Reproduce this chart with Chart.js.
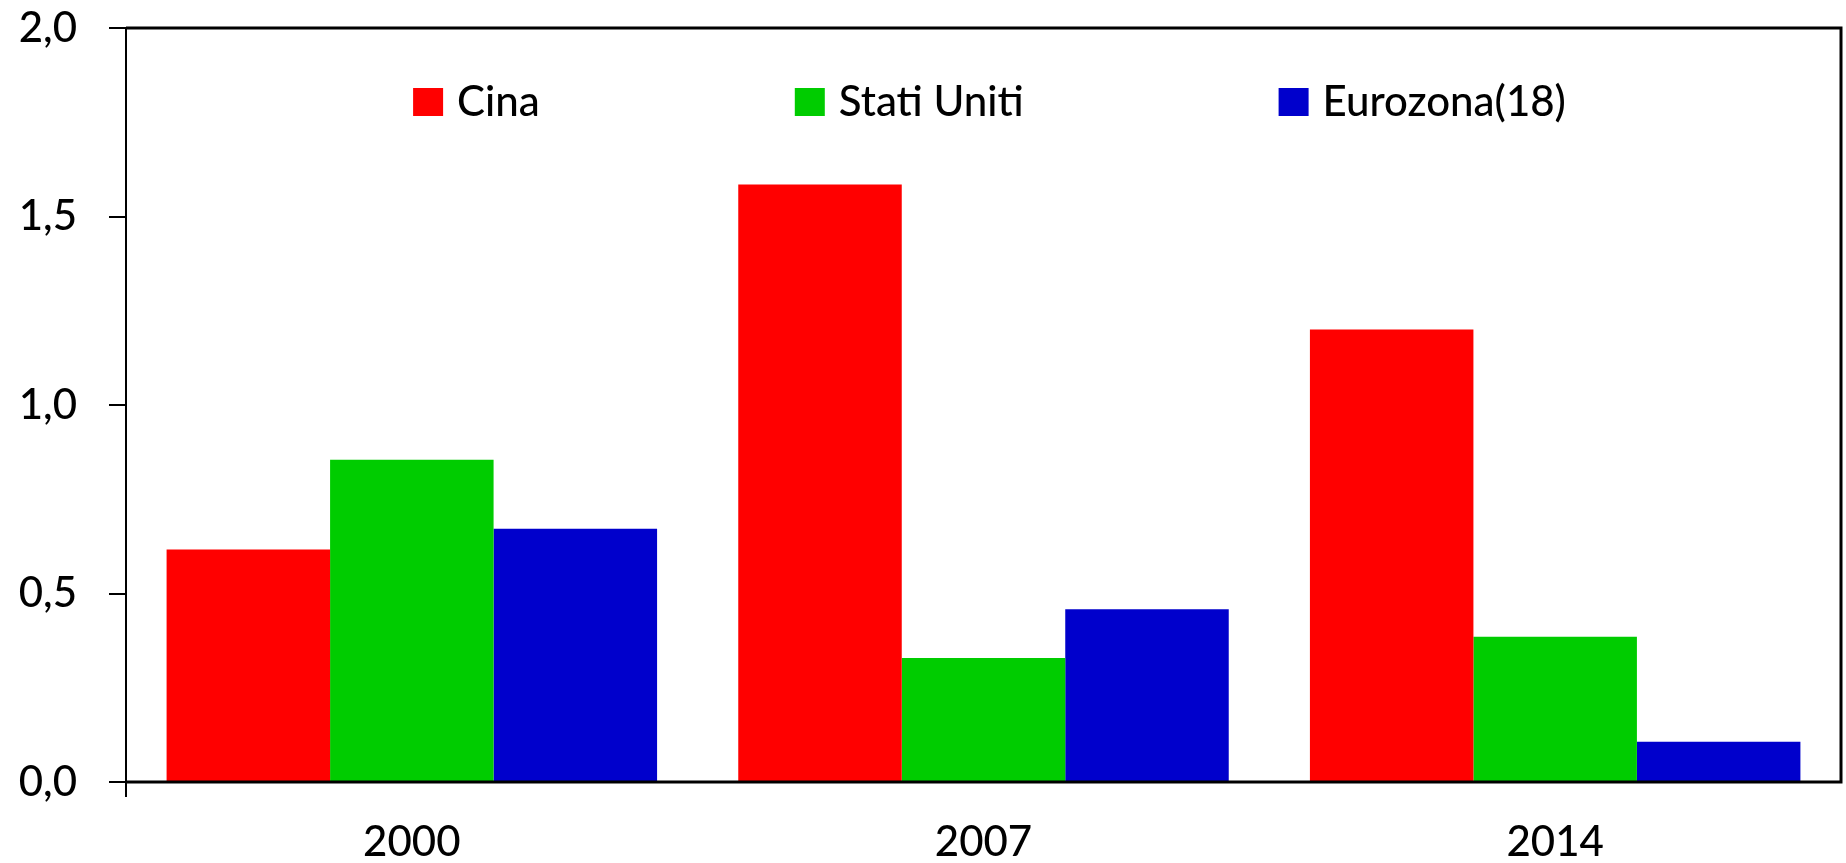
<!DOCTYPE html>
<html>
<head>
<meta charset="utf-8">
<script src="https://cdn.jsdelivr.net/npm/chart.js@4/dist/chart.umd.min.js"></script>
<style>
  body { margin: 0; background: #fff; }
  #wrap { width: 1846px; height: 863px; }
</style>
</head>
<body>
<div id="wrap"><canvas id="chart"></canvas></div>
<script>
// dati
const years = ["2000", "2007", "2014"];
const seriesNames = ["Cina", "Stati Uniti", "Eurozona(18)"];
const cina = [0.617, 1.585, 1.2];
const statiUniti = [0.855, 0.329, 0.385];
const eurozona = [0.672, 0.458, 0.107];
const yTickLabels = ["0,0", "0,5", "1,0", "1,5", "2,0"];
const colors = ["#FF0000", "#00CC00", "#0000CC"];

const FONT = "Lato";

// cornice + legenda disegnate dentro l'area del grafico
const framePlugin = {
  id: "frame",
  afterDatasetsDraw(chart) {
    const { ctx, chartArea: a } = chart;
    ctx.save();
    ctx.strokeStyle = "#000";
    ctx.lineWidth = 3;
    ctx.beginPath();
    ctx.moveTo(a.left, a.top);
    ctx.lineTo(a.right, a.top);
    ctx.lineTo(a.right, a.bottom);
    ctx.lineTo(a.left, a.bottom);
    ctx.stroke();
    ctx.lineWidth = 2;
    ctx.beginPath();
    ctx.moveTo(a.left, a.top);
    ctx.lineTo(a.left, a.bottom + 15);
    ctx.stroke();
    ctx.restore();
  },
  afterDraw(chart) {
    const { ctx, chartArea: a } = chart;
    const sets = chart.data.datasets;
    ctx.save();
    ctx.font = "500 42px " + FONT;
    const box = 30, gap = 14, spacing = 255;
    const widths = sets.map((d) => box + gap + ctx.measureText(d.label).width);
    const total = widths.reduce((s, w) => s + w, 0) + spacing * (sets.length - 1);
    let x = (a.left + a.right) / 2 + 6 - total / 2;
    const yBase = a.top + 88;
    sets.forEach((d, i) => {
      ctx.fillStyle = d.backgroundColor;
      ctx.fillRect(x, yBase - 28, box, 28);
      ctx.fillStyle = "#000";
      ctx.textBaseline = "alphabetic";
      ctx.fillText(d.label, x + box + gap, yBase);
      x += widths[i] + spacing;
    });
    ctx.restore();
  },
};

new Chart(document.getElementById("chart"), {
  type: "bar",
  data: {
    labels: years,
    datasets: [
      { label: seriesNames[0], data: cina, backgroundColor: colors[0] },
      { label: seriesNames[1], data: statiUniti, backgroundColor: colors[1] },
      { label: seriesNames[2], data: eurozona, backgroundColor: colors[2] },
    ],
  },
  options: {
    responsive: true,
    maintainAspectRatio: false,
    animation: false,
    layout: { padding: { top: 28, right: 5, left: 0, bottom: 0 } },
    datasets: {
      bar: { categoryPercentage: 0.858, barPercentage: 1.0 },
    },
    plugins: {
      legend: { display: false },
      tooltip: { enabled: false },
    },
    scales: {
      x: {
        grid: {
          display: true,
          drawOnChartArea: false,
          offset: true,
          tickLength: 15,
          color: "transparent",
          tickColor: "transparent",
        },
        border: { display: false },
        ticks: {
          color: "#000",
          font: { family: FONT, size: 42, weight: "500" },
          padding: 20,
        },
        afterFit(scale) {
          scale.height = 81;
          scale.paddingLeft = 0;
          scale.paddingRight = 0;
        },
      },
      y: {
        min: 0,
        max: 2,
        grid: {
          drawOnChartArea: false,
          tickLength: 17,
          color: "#000",
          lineWidth: 2,
        },
        border: { display: false },
        ticks: {
          stepSize: 0.5,
          color: "#000",
          font: { family: FONT, size: 42, weight: "500" },
          padding: 32,
          callback: (v, i) => yTickLabels[i],
        },
        afterFit(scale) {
          scale.width = 126;
          scale.paddingTop = 0;
          scale.paddingBottom = 0;
        },
      },
    },
  },
  plugins: [framePlugin],
});
</script>
</body>
</html>
